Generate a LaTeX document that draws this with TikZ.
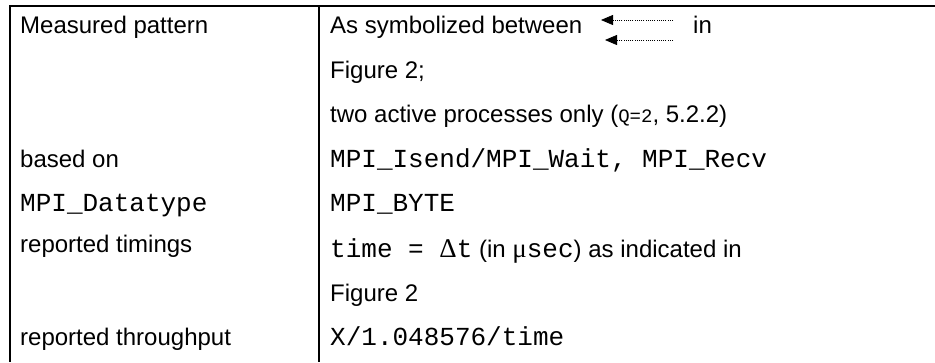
\documentclass[tikz,border=0pt]{standalone}
\usepackage{fontspec}
\setmainfont{Liberation Sans}
\newfontfamily\courfont{Liberation Mono}
\newfontfamily\symbfont{Liberation Serif}
\usetikzlibrary{arrows.meta}

\newcommand{\cd}[1]{{\fontsize{26}{30}\courfont #1}}
\newcommand{\smallcd}[1]{{\fontsize{19}{22}\courfont #1}}
\newcommand{\sy}[1]{{\fontsize{27}{30}\symbfont #1}}

\begin{document}
\begin{tikzpicture}[x=1pt,y=1pt,
  rule/.style={line width=2pt},
  lab/.style={anchor=mid west, inner sep=0pt, font=\fontsize{24}{28}\selectfont},
  ptr/.style={line width=0.8pt, dash pattern=on 1pt off 1.2pt,
              -{Triangle[length=12pt,width=10pt]}},
  ]
\useasboundingbox (0,0) rectangle (935,-362);

% frame: top rule and the two column rules
\coordinate (tl) at (10,-6);
\coordinate (tr) at (935,-6);
\coordinate (bl) at (10,-362);
\coordinate (tm) at (318.5,-6);
\coordinate (bm) at (318.5,-362);
\draw[rule] (tr) -- (tl) -- (bl);
\draw[rule] (tm) -- (bm);

% left column
\node[lab] (mp)  at (20,-31)    {Measured pattern};
\node[lab] (bo)  at (20,-164.5) {based on};
\node[lab] (dt)  at (20,-209)   {\cd{MPI\_Datatype}};
\node[lab] (rt)  at (20,-250)   {reported timings};
\node[lab] (rth) at (20,-342.5) {reported throughput};

% right column
\node[lab] (as) at (330,-31) {As symbolized between};
\coordinate (a1h) at (601,-20);
\coordinate (a1t) at (673,-20);
\coordinate (a2h) at (605,-40);
\coordinate (a2t) at (673,-40);
\draw[ptr] (a1t) -- (a1h);
\draw[ptr] (a2t) -- (a2h);
\node[lab] (in) at (693,-31) {in};
\node[lab] (fg1) at (330,-75.5) {Figure 2;};
\node[lab] (two) at (330,-120) {two active processes only (\smallcd{Q=2}, 5.2.2)};
\node[lab] (isend) at (330,-164.5) {\cd{MPI\_Isend/MPI\_Wait, MPI\_Recv}};
\node[lab] (byte) at (330,-209) {\cd{MPI\_BYTE}};
\node[lab] (time) at (330,-255) {\cd{time = }\sy{Δ}\cd{t} (in \sy{μ}\cd{sec}) as indicated in};
\node[lab] (fg2) at (330,-298.5) {Figure 2};
\node[lab] (thr) at (330,-342.5) {\cd{X/1.048576/time}};
\end{tikzpicture}
\end{document}
